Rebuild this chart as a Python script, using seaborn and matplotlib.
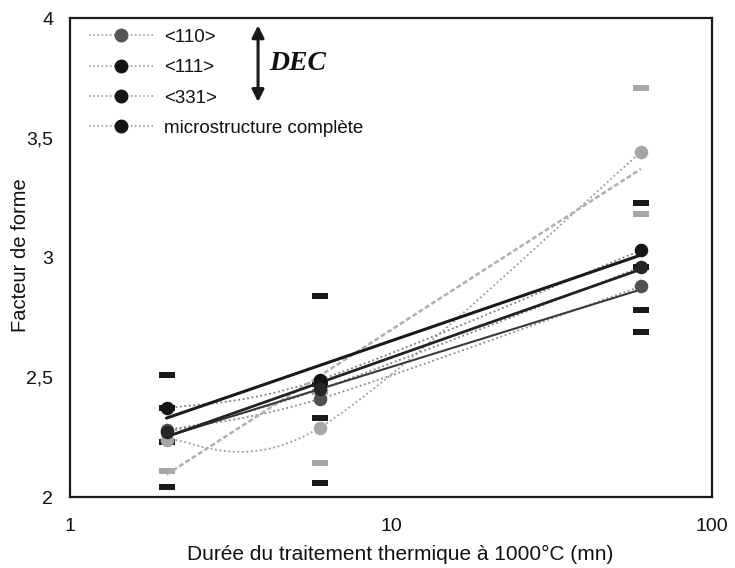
import numpy as np
import pandas as pd
import matplotlib
matplotlib.use("Agg")
import matplotlib.pyplot as plt
from matplotlib.lines import Line2D
from matplotlib.path import Path
import seaborn as sns

# ---------------- data ----------------
duree = [2, 6, 60]                      # minutes
moy_110 = [2.24, 2.29, 3.44]
moy_111 = [2.37, 2.49, 3.03]
moy_331 = [2.28, 2.41, 2.88]
moy_micro = [2.27, 2.45, 2.96]

bornes_noires_x = [2, 2, 2, 2, 6, 6, 6, 6, 60, 60, 60, 60]
bornes_noires_y = [2.51, 2.37, 2.23, 2.04, 2.84, 2.47, 2.33, 2.06, 3.23, 2.96, 2.78, 2.69]
bornes_grises_x = [2, 2, 6, 6, 60, 60]
bornes_grises_y = [2.11, 2.37, 2.14, 2.44, 3.18, 3.71]

series = ["<110>", "<111>", "<331>", "microstructure complète"]
y_ticks = [2, 2.5, 3, 3.5, 4]
y_tick_labels = ["2", "2,5", "3", "3,5", "4"]
x_ticks = [1, 10, 100]
x_tick_labels = ["1", "10", "100"]

# ---------------- style ----------------
sns.set_theme(style="white")
plt.rcParams["font.family"] = ["Liberation Sans", "DejaVu Sans"]

fig = plt.figure(figsize=(7.35, 5.68), dpi=100)
ax = fig.add_axes([0.095, 0.125, 0.874, 0.843])
ax.set_xscale("log")
ax.set_xlim(1, 100)
ax.set_ylim(2, 4)

styles = {
    "<110>": dict(mk="#a6a6a6", dot="#9a9a9a", trend="#b0b0b0", tls=(0, (2, 1)), tlw=1.8),
    "<111>": dict(mk="#151515", dot="#7a7a7a", trend="#1a1a1a", tls="-", tlw=2.2),
    "<331>": dict(mk="#505050", dot="#8a8a8a", trend="#3a3a3a", tls="-", tlw=1.5),
    "microstructure complète": dict(mk="#262626", dot="#808080", trend="#222222", tls="-", tlw=2.0),
}
means = {"<110>": moy_110, "<111>": moy_111, "<331>": moy_331,
         "microstructure complète": moy_micro}

# dash markers (min / max)
rect = Path([(-1.5, -0.5), (1.5, -0.5), (1.5, 0.5), (-1.5, 0.5), (-1.5, -0.5)],
            [Path.MOVETO, Path.LINETO, Path.LINETO, Path.LINETO, Path.CLOSEPOLY])
sns.scatterplot(x=bornes_grises_x, y=bornes_grises_y, marker=rect, s=120,
                color="#a8a8a8", linewidth=0, ax=ax, zorder=2)
sns.scatterplot(x=bornes_noires_x, y=bornes_noires_y, marker=rect, s=120,
                color="#1a1a1a", linewidth=0, ax=ax, zorder=2)


# smoothed (Excel-like) curve through the means, computed in display-like space
def smooth(xs, ys, n=40):
    W, H = 642.0, 479.0
    P = np.array([[np.log10(x) / 2 * W, (y - 2) / 2 * H] for x, y in zip(xs, ys)])
    out = []
    m = len(P)
    for i in range(m - 1):
        prev = P[i - 1] if i > 0 else P[i]
        nxt = P[i + 2] if i + 2 < m else P[i + 1]
        c1 = P[i] + (P[i + 1] - prev) / 6
        c2 = P[i + 1] - (nxt - P[i]) / 6
        t = np.linspace(0, 1, n)[:, None]
        b = ((1 - t) ** 3) * P[i] + 3 * ((1 - t) ** 2) * t * c1 + 3 * (1 - t) * t * t * c2 + (t ** 3) * P[i + 1]
        out.append(b if i == 0 else b[1:])
    B = np.vstack(out)
    return 10 ** (B[:, 0] / W * 2), 2 + B[:, 1] / H * 2


for name in series:
    st = styles[name]
    sx, sy = smooth(duree, means[name])
    sns.lineplot(x=sx, y=sy, sort=False, estimator=None, color=st["dot"],
                 linestyle=(0, (1, 1.5)), linewidth=1.3, ax=ax, zorder=3)

# logarithmic trendlines
for name in series:
    st = styles[name]
    sns.regplot(x=np.array(duree, float), y=np.array(means[name]), logx=True, ci=None,
                scatter=False, truncate=True, ax=ax,
                line_kws=dict(color=st["trend"], linestyle=st["tls"], linewidth=st["tlw"], zorder=4))

# mean markers
for name in series:
    st = styles[name]
    sns.scatterplot(x=duree, y=means[name], s=95, color=st["mk"], linewidth=0,
                    ax=ax, zorder=5)

# ---------------- axes ----------------
ax.set_yticks(y_ticks)
ax.set_yticklabels(y_tick_labels)
ax.set_xticks(x_ticks)
ax.set_xticklabels(x_tick_labels)
ax.xaxis.set_minor_locator(matplotlib.ticker.NullLocator())
ax.tick_params(axis="y", which="major", direction="out", length=3, width=1,
               color="#888888", pad=9, labelsize=14, labelcolor="#111111")
ax.tick_params(axis="x", which="major", length=0, pad=15, labelsize=14, labelcolor="#111111")
for sp in ax.spines.values():
    sp.set_color("#1a1a1a")
    sp.set_linewidth(1.6)
ax.grid(False)
ax.set_xlabel("Durée du traitement thermique à 1000°C (mn)", fontsize=15, color="#111111")
ax.set_ylabel("Facteur de forme", fontsize=14.5, color="#111111")
ax.xaxis.set_label_coords(0.514, -0.1)
ax.yaxis.set_label_coords(-0.062, 0.505)

# ---------------- legend ----------------
handles = []
for name in series:
    st = styles[name]
    mkc = "#555555" if name == "<110>" else "#151515"
    handles.append(Line2D([0], [0], color="#9a9a9a", linestyle=(0, (1, 1.5)), linewidth=1.2,
                          marker="o", markersize=9, markerfacecolor=mkc, markeredgecolor=mkc))
leg = ax.legend(handles, series, loc="upper left", bbox_to_anchor=(0.01, 1.005),
                frameon=False, fontsize=13.5, handlelength=3.4, handletextpad=0.6,
                labelspacing=0.7, borderaxespad=0.3)
for t in leg.get_texts():
    t.set_color("#111111")

# DEC double arrow
ax.annotate("", xy=(0.293, 0.985), xytext=(0.293, 0.825), xycoords="axes fraction",
            arrowprops=dict(arrowstyle="<|-|>", color="#1a1a1a", lw=2.2,
                            mutation_scale=18, shrinkA=0, shrinkB=0))
ax.text(0.31, 0.905, "DEC", transform=ax.transAxes, fontsize=20, fontweight="bold",
        fontstyle="italic", family=["Liberation Serif", "DejaVu Serif"], va="center",
        ha="left", color="#111111")

fig.savefig("out.png", dpi=100)
